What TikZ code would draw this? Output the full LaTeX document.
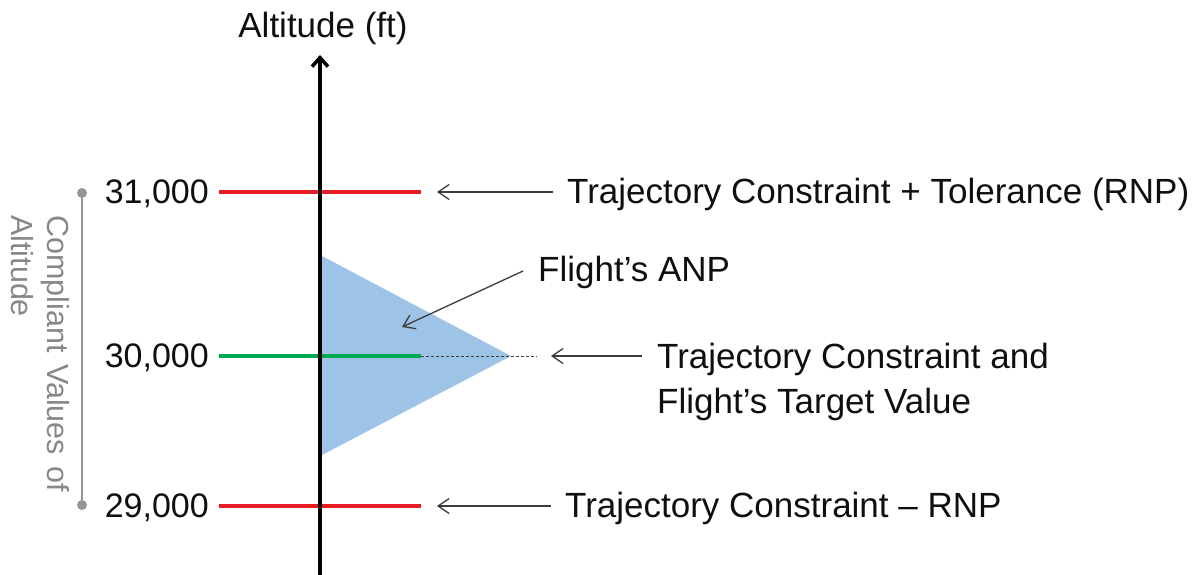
\documentclass[tikz,border=0pt]{standalone}
\usepackage{fontspec}
\setmainfont{Liberation Sans}
\usetikzlibrary{arrows.meta}
\definecolor{cred}{RGB}{232,28,36}
\definecolor{cgreen}{RGB}{0,170,80}
\definecolor{cblue}{RGB}{157,195,230}
\definecolor{cgray}{RGB}{135,135,135}
\definecolor{cbrack}{RGB}{150,150,150}
\definecolor{carrow}{RGB}{60,60,60}
\definecolor{ctext}{RGB}{15,15,15}
\begin{document}
\begin{tikzpicture}[x=1pt,y=-1pt,
  lbl/.style={inner sep=0pt, font=\fontsize{35}{42}\selectfont, text=ctext},
  num/.style={inner sep=0pt, font=\fontsize{34}{41}\selectfont, text=ctext},
  vt/.style={inner sep=0pt, font=\fontsize{30.5}{37}\selectfont, text=cgray},
  level/.style={line width=4pt},
  pointer/.style={draw=carrow, line width=1.3pt, -{Straight Barb[length=11pt,width=15pt]}},
  dotline/.style={draw=black!75, line width=1pt, dash pattern=on 3pt off 2pt},
]
\useasboundingbox (0,0) rectangle (1204,575);
% ANP triangle
\fill[cblue] (322,256) -- (511,356) -- (322,455) -- cycle;
% levels
\draw[level, cred] (219,192) -- (421,192);
\draw[level, cgreen] (219,356) -- (421,356);
\draw[level, cred] (219,506) -- (421,506);
\draw[dotline] (421,356) -- (537,356);
% axis
\coordinate (axbot) at (320,575);
\coordinate (axtop) at (320,55);
\draw[line width=3.5pt, -{Straight Barb[length=9pt,width=16pt]}] (axbot) -- (axtop);
% labels
\node[lbl, anchor=base] (alt) at (323,38) {Altitude (ft)};
\node[num, anchor=base east] (n31) at (209,203) {31,000};
\node[num, anchor=base east] (n30) at (209,367) {30,000};
\node[num, anchor=base east] (n29) at (209,517) {29,000};
\node[lbl, anchor=base west] (t31) at (567,203) {Trajectory Constraint + Tolerance (RNP)};
\node[lbl, anchor=base west] (anp) at (538,281) {Flight’s ANP};
\node[lbl, anchor=base west] (t30a) at (657,368) {Trajectory Constraint and};
\node[lbl, anchor=base west] (t30b) at (657,413) {Flight’s Target Value};
\node[lbl, anchor=base west] (t29) at (565,517) {Trajectory Constraint – RNP};
% pointers
\coordinate (s31) at (553,192); \coordinate (e31) at (437,192);
\coordinate (sanp) at (523,271); \coordinate (eanp) at (402,327);
\coordinate (s30) at (642,356); \coordinate (e30) at (551,356);
\coordinate (s29) at (551,506); \coordinate (e29) at (437,506);
\draw[pointer] (s31) -- (e31);
\draw[pointer] (sanp) -- (eanp);
\draw[pointer] (s30) -- (e30);
\draw[pointer] (s29) -- (e29);
% compliant bracket
\coordinate (btop) at (82,193);
\coordinate (bbot) at (82,505);
\draw[cbrack, line width=1.6pt] (btop) -- (bbot);
\fill[cbrack] (btop) circle (5);
\fill[cbrack] (bbot) circle (5);
\node[vt, rotate=-90, anchor=base west] (cv1) at (47,215) {\makebox[277pt][s]{Compliant Values of}};
\node[vt, rotate=-90, anchor=base west] (cv2) at (12,215) {Altitude};
\end{tikzpicture}
\end{document}
